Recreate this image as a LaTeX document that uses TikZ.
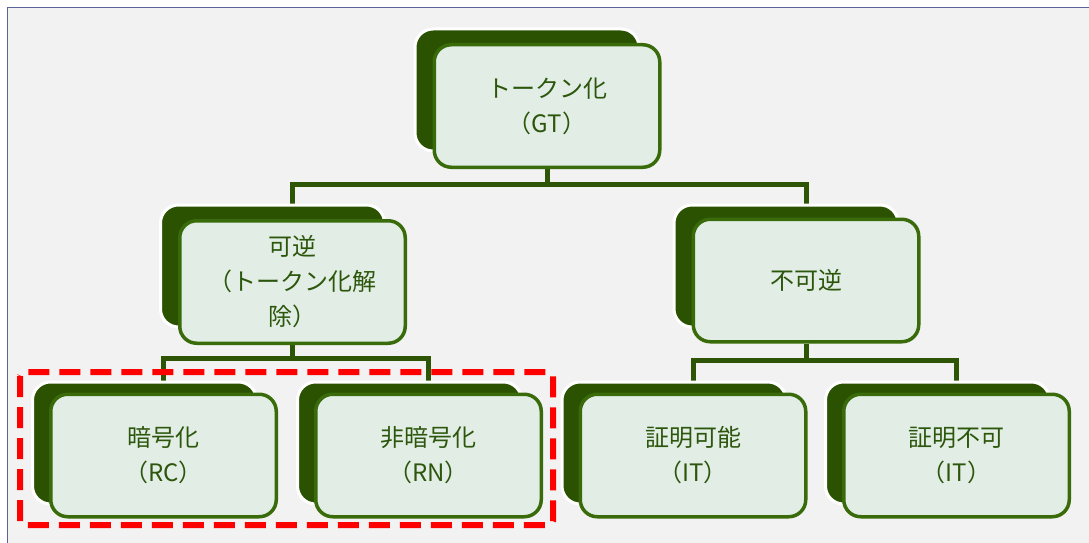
\documentclass[tikz,border=0pt]{standalone}
\usepackage{fontspec}
\newfontfamily\jp{Noto Sans CJK JP}
\usetikzlibrary{backgrounds}
\definecolor{bgc}{HTML}{F2F2F2}
\definecolor{framec}{HTML}{5E629A}
\definecolor{backc}{HTML}{2B5200}
\definecolor{frontc}{HTML}{E2EEE5}
\definecolor{edgec}{HTML}{3A6B0A}
\definecolor{txtc}{HTML}{2C560C}
\definecolor{linec}{HTML}{2E5505}
\begin{document}
\begin{tikzpicture}[x=1pt,y=-1pt,
  front/.style={draw=edgec, line width=3.5pt, fill=frontc, rounded corners=17pt,
    minimum width=225.5pt, minimum height=122.5pt, inner sep=0pt, align=center,
    font=\jp\fontsize{24}{35}\selectfont, text=txtc},
  backbox/.style={draw=white, line width=3pt, fill=backc, rounded corners=18pt,
    minimum width=224pt, minimum height=122pt, inner sep=0pt},
  conn/.style={draw=linec, line width=5pt},
  grpbox/.style={draw=red, line width=6pt, dash pattern=on 21pt off 10pt, rounded corners=4pt}]
\useasboundingbox (0,0) rectangle (1089,543);

% back boxes
\node[backbox] (rootB) at (527,90) {};
\node[backbox] (revB) at (272.5,266) {};
\node[backbox] (irrB) at (786,266) {};
\node[backbox] (rcB) at (144.5,443) {};
\node[backbox] (rnB) at (409.5,443) {};
\node[backbox] (pvB) at (674,443) {};
\node[backbox] (npvB) at (937.5,443) {};

% front boxes
\node[front] (root) at (547,106) {トークン化\\（GT）};
\node[front] (rev) at (292.5,282) {可逆\\（トークン化解\\除）};
\node[front] (irr) at (806,280.5) {不可逆};
\node[front] (rc) at (163.5,455.5) {暗号化\\（RC）};
\node[front] (rn) at (428.5,455.5) {非暗号化\\（RN）};
\node[front] (pv) at (693,455.5) {証明可能\\（IT）};
\node[front] (npv) at (956.5,455.5) {証明不可\\（IT）};

\draw[grpbox] (20,372) rectangle (553,525);

\begin{pgfonlayer}{background}
  \fill[white] (0,0) rectangle (1089,543);
  \draw[framec, line width=1.5pt, fill=bgc] (7.5,7.5) rectangle (1110,560);
  \draw[conn] (root.south) -- ++(0,15) -| (rev.north);
  \draw[conn] (root.south) -- ++(0,15) -| (irr.north);
  \draw[conn] (rev.south) -- ++(0,13) -| (rc.north);
  \draw[conn] (rev.south) -- ++(0,13) -| (rn.north);
  \draw[conn] (irr.south) -- ++(0,17) -| (pv.north);
  \draw[conn] (irr.south) -- ++(0,17) -| (npv.north);
\end{pgfonlayer}
\end{tikzpicture}
\end{document}
